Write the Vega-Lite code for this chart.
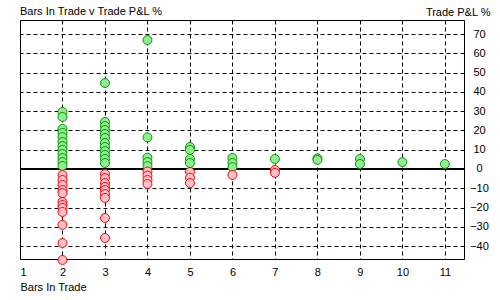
{
  "$schema": "https://vega.github.io/schema/vega-lite/v6.json",
  "width": 444,
  "height": 239,
  "autosize": "none",
  "padding": {"left": 20, "top": 20, "right": 36, "bottom": 41},
  "background": "white",
  "title": {"text": "Bars In Trade v Trade P&L %", "anchor": "start", "frame": "group", "font": "Liberation Sans", "fontSize": 11, "fontWeight": "normal", "color": "#000", "offset": 4, "baseline": "bottom", "dy": 26},
  "config": {"view": {"stroke": "black", "strokeWidth": 1}},
  "data": {"values": [
    {"bars": 2, "pnl": 29.6}, {"bars": 2, "pnl": 27}, {"bars": 2, "pnl": 20.8}, {"bars": 2, "pnl": 18.7}, {"bars": 2, "pnl": 16.6}, {"bars": 2, "pnl": 14}, {"bars": 2, "pnl": 11.9}, {"bars": 2, "pnl": 9.9}, {"bars": 2, "pnl": 7.8}, {"bars": 2, "pnl": 5.7}, {"bars": 2, "pnl": 3.6}, {"bars": 2, "pnl": 1.6},
    {"bars": 2, "pnl": -3.1}, {"bars": 2, "pnl": -5.7}, {"bars": 2, "pnl": -8.3}, {"bars": 2, "pnl": -10.9}, {"bars": 2, "pnl": -12.5}, {"bars": 2, "pnl": -17.1}, {"bars": 2, "pnl": -18.7}, {"bars": 2, "pnl": -20.2}, {"bars": 2, "pnl": -22.3}, {"bars": 2, "pnl": -29}, {"bars": 2, "pnl": -38.4}, {"bars": 2, "pnl": -47.2},
    {"bars": 3, "pnl": 44.6}, {"bars": 3, "pnl": 24.4}, {"bars": 3, "pnl": 22.3}, {"bars": 3, "pnl": 20.2}, {"bars": 3, "pnl": 18.2}, {"bars": 3, "pnl": 16.1}, {"bars": 3, "pnl": 13.5}, {"bars": 3, "pnl": 11.4}, {"bars": 3, "pnl": 9.3}, {"bars": 3, "pnl": 7.3}, {"bars": 3, "pnl": 5.2}, {"bars": 3, "pnl": 3.1},
    {"bars": 3, "pnl": -2.6}, {"bars": 3, "pnl": -4.7}, {"bars": 3, "pnl": -7.3}, {"bars": 3, "pnl": -9.3}, {"bars": 3, "pnl": -10.9}, {"bars": 3, "pnl": -13}, {"bars": 3, "pnl": -15}, {"bars": 3, "pnl": -25.4}, {"bars": 3, "pnl": -35.8},
    {"bars": 4, "pnl": 66.9}, {"bars": 4, "pnl": 16.4}, {"bars": 4, "pnl": 5.9}, {"bars": 4, "pnl": 3.6}, {"bars": 4, "pnl": 1.5}, {"bars": 4, "pnl": -1.3}, {"bars": 4, "pnl": -3.4}, {"bars": 4, "pnl": -5.7}, {"bars": 4, "pnl": -7.8},
    {"bars": 5, "pnl": 11.4}, {"bars": 5, "pnl": 9.9}, {"bars": 5, "pnl": 5.2}, {"bars": 5, "pnl": 3.1}, {"bars": 5, "pnl": -1.5}, {"bars": 5, "pnl": -4.5}, {"bars": 5, "pnl": -7.3},
    {"bars": 6, "pnl": 5.7}, {"bars": 6, "pnl": 3.1}, {"bars": 6, "pnl": 1}, {"bars": 6, "pnl": -3.1},
    {"bars": 7, "pnl": 5.2}, {"bars": 7, "pnl": -0.5}, {"bars": 7, "pnl": -2},
    {"bars": 8, "pnl": 5.5}, {"bars": 8, "pnl": 4.7},
    {"bars": 9, "pnl": 5.2}, {"bars": 9, "pnl": 2.6},
    {"bars": 10, "pnl": 3.6},
    {"bars": 11, "pnl": 2.6}
  ]},
  "encoding": {
    "x": {"field": "bars", "type": "quantitative", "scale": {"domain": [1, 11.45], "nice": false, "zero": false},
      "axis": {"values": [1, 2, 3, 4, 5, 6, 7, 8, 9, 10, 11], "grid": true, "gridDash": [4, 3], "gridColor": "black", "gridOpacity": 1, "domain": false, "ticks": false, "labelPadding": 7, "labelFont": "Liberation Sans", "labelFontSize": 11, "labelColor": "#000", "title": "Bars In Trade", "titleFont": "Liberation Sans", "titleFontSize": 11, "titleFontWeight": "normal", "titleColor": "#000", "titleX": 0, "titleY": 28, "titleAlign": "left", "titleBaseline": "middle"}},
    "y": {"field": "pnl", "type": "quantitative", "scale": {"domain": [-46.7, 77.3], "nice": false, "zero": false},
      "axis": {"orient": "right", "values": [-40, -30, -20, -10, 0, 10, 20, 30, 40, 50, 60, 70], "grid": true, "gridDash": [4, 3], "gridColor": "black", "gridOpacity": 1, "domain": false, "ticks": false, "labelPadding": 15, "labelAlign": "center", "labelFont": "Liberation Sans", "labelFontSize": 11, "labelColor": "#000", "title": "Trade P&L %", "titleFont": "Liberation Sans", "titleFontSize": 11, "titleFontWeight": "normal", "titleColor": "#000", "titleAngle": 0, "titleAlign": "right", "titleBaseline": "middle", "titleX": 26, "titleY": -8}}
  },
  "layer": [
    {"mark": {"type": "rule", "color": "black", "strokeWidth": 1}, "encoding": {"y": {"datum": 0}, "x": {"datum": 1}, "x2": {"datum": 11.45}}},
    {"mark": {"type": "point", "shape": "circle", "filled": true, "size": 80, "opacity": 1, "strokeWidth": 1},
      "encoding": {
        "fill": {"field": "pnl", "type": "quantitative", "scale": {"type": "threshold", "domain": [0], "range": ["#ffc0cb", "#90ee90"]}, "legend": null},
        "stroke": {"field": "pnl", "type": "quantitative", "scale": {"type": "threshold", "domain": [0], "range": ["#ff0000", "#009900"]}, "legend": null}
      }}
  ]
}
